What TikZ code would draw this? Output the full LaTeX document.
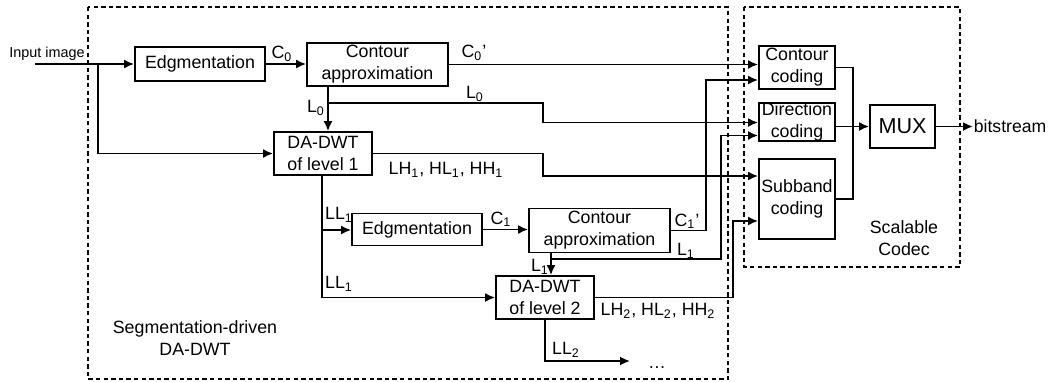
\documentclass[tikz,border=0pt]{standalone}
\usepackage{fontspec}
\setmainfont{Liberation Sans}
\usetikzlibrary{arrows.meta}

\begin{document}
\begin{tikzpicture}[x=0.5pt, y=-0.5pt, line width=0.9pt,
    font=\fontsize{8.9}{11}\selectfont,
    blk/.style={draw, align=center, inner sep=0pt},
    arr/.style={-{Latex[length=5pt,width=4.5pt]}},
    lbl/.style={inner sep=0pt},
    frame/.style={dashed, line width=0.6pt, dash pattern=on 2.2pt off 1.6pt}]
  \useasboundingbox (0,0) rectangle (1049,381);
  % outer dashed frames
  \draw[frame] (88,7) rectangle (728,379);
  \draw[frame] (744,7) rectangle (960,267);
  \node[lbl, align=center] (segtxt) at (195,338) {Segmentation-driven\\DA-DWT};
  \node[lbl, align=center] (codtxt) at (904,238) {Scalable\\Codec};

  % blocks
  \node[blk, minimum width=65pt, minimum height=17pt] (edg1) at (200,64) {Edgmentation};
  \node[blk, minimum width=70.5pt, minimum height=21.5pt] (ca1) at (377.5,64.5) {Contour\\approximation};
  \node[blk, minimum width=49pt, minimum height=21.5pt] (dwt1) at (323,153.5) {DA-DWT\\of level 1};
  \node[blk, minimum width=65pt, minimum height=16pt] (edg2) at (417,229.5) {Edgmentation};
  \node[blk, minimum width=70.5pt, minimum height=22pt] (ca2) at (599.5,230.5) {Contour\\approximation};
  \node[blk, minimum width=49pt, minimum height=21.5pt] (dwt2) at (545,297.5) {DA-DWT\\of level 2};
  \node[blk, minimum width=38pt, minimum height=21.5pt] (cc) at (797,67.5) {Contour\\coding};
  \node[blk, minimum width=38pt, minimum height=17pt] (dc) at (797,122) {Direction\\coding};
  \node[blk, minimum width=38pt, minimum height=40pt] (sc) at (797,199) {Subband\\coding};
  \node[blk, minimum width=32.5pt, minimum height=21.5pt, font=\fontsize{10.8}{12}\selectfont] (mux) at (902.5,126.5) {MUX};
  \node[lbl, anchor=west, font=\fontsize{8.8}{10}\selectfont] (bs) at (973,126.5) {bitstream};

  % input
  \coordinate (in) at (35,64);
  \coordinate (j0) at (98,64);
  \node[lbl, font=\fontsize{7.2}{9}\selectfont] (intxt) at (47,54) {Input image};
  \draw[arr] (in) -- (edg1.west);
  \draw[arr] (j0) |- (dwt1.west);
  \draw[arr] (edg1.east) -- (edg1.east -| ca1.west);
  \node[lbl] (c0) at (282,54) {C\textsubscript{0}};

  % level 1 outputs
  \draw[arr] (ca1.east) -- (ca1.east -| cc.west);
  \node[lbl] (c0p) at (474,53) {C\textsubscript{0}’};
  \coordinate (l0) at (328,103);
  \draw[arr] (ca1.south -| l0) -- (l0 |- dwt1.north);
  \draw[arr] (l0) -- (543,103) |- (dc.west |- 0,122.5);
  \node[lbl] (l0a) at (316,108) {L\textsubscript{0}};
  \node[lbl] (l0b) at (475,94) {L\textsubscript{0}};
  \draw[arr] (dwt1.east) -- (543,153.5) |- (sc.west |- 0,176);
  \node[lbl] (hf1) at (446,170) {LH\textsubscript{1}, HL\textsubscript{1}, HH\textsubscript{1}};

  % level 2
  \coordinate (j1) at (322,230);
  \coordinate (j2) at (322,297.5);
  \draw (dwt1.south -| j1) -- (j2);
  \draw[arr] (j1) -- (j1 -| edg2.west);
  \draw[arr] (j2) -- (dwt2.west);
  \node[lbl] (ll1a) at (339,215) {LL\textsubscript{1}};
  \node[lbl] (ll1b) at (339,284) {LL\textsubscript{1}};
  \draw[arr] (edg2.east) -- (edg2.east -| ca2.west);
  \node[lbl] (c1) at (501,219) {C\textsubscript{1}};

  \coordinate (k1) at (706,80);
  \draw[arr] (ca2.east) -| (k1) -- (k1 -| cc.west);
  \node[lbl] (c1p) at (687,221) {C\textsubscript{1}’};
  \coordinate (k2) at (551,259);
  \coordinate (k3) at (721,135.5);
  \draw[arr] (ca2.south -| k2) -- (k2 |- dwt2.north);
  \draw[arr] (k2) -| (k3) -- (k3 -| dc.west);
  \node[lbl] (l1a) at (540,267) {L\textsubscript{1}};
  \node[lbl] (l1b) at (686,251) {L\textsubscript{1}};
  \coordinate (k4) at (733,221);
  \draw[arr] (dwt2.east) -| (k4) -- (k4 -| sc.west);
  \node[lbl] (hf2) at (658,311) {LH\textsubscript{2}, HL\textsubscript{2}, HH\textsubscript{2}};
  \coordinate (k5) at (545,361);
  \coordinate (k6) at (630,361);
  \draw[arr] (dwt2.south) -- (k5) -- (k6);
  \node[lbl] (ll2) at (566,350) {LL\textsubscript{2}};
  \node[lbl] (dots) at (657,368) {\dots};

  % merge into MUX
  \coordinate (m) at (853,126.5);
  \draw (cc.east) -| (m |- sc.east) -- (sc.east);
  \draw[arr] (dc.east |- mux.west) -- (mux.west);
  \draw[arr] (mux.east) -- (bs.west);
\end{tikzpicture}
\end{document}
